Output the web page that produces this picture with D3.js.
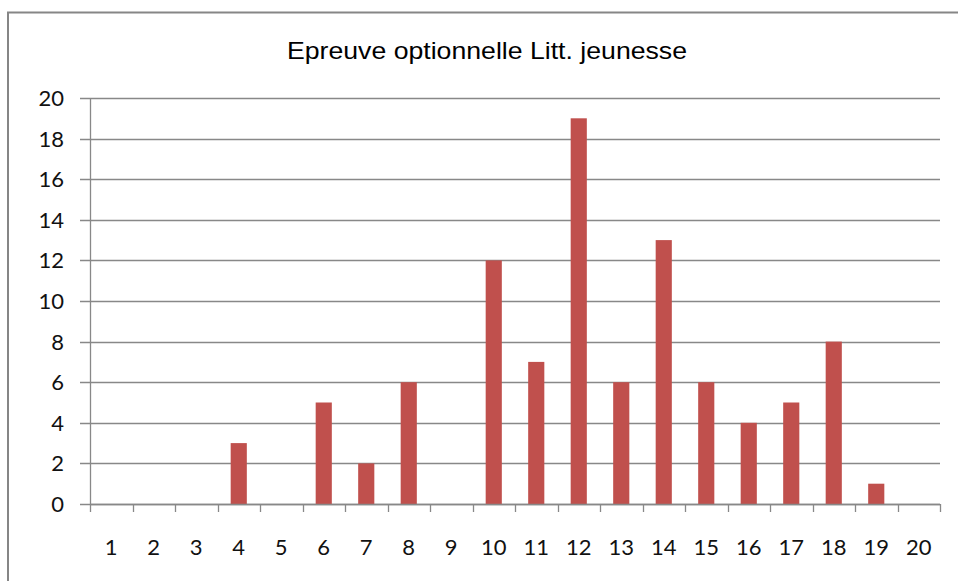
<!DOCTYPE html>
<html><head><meta charset="utf-8">
<script src="https://cdn.jsdelivr.net/npm/d3@7"></script>
<style>html,body{margin:0;padding:0;background:#fff;overflow:hidden}</style>
</head><body>
<svg id="c" width="958" height="581"></svg>
<script>
const title = "Epreuve optionnelle Litt. jeunesse";
const categories = ["1","2","3","4","5","6","7","8","9","10","11","12","13","14","15","16","17","18","19","20"];
const values = [0,0,0,3,0,5,2,6,0,12,7,19,6,13,6,4,5,8,1,0];
const yTicks = [0,2,4,6,8,10,12,14,16,18,20];

const svg = d3.select("#c");
const plotLeft = 90, plotRight = 940, plotTop = 98, plotBottom = 504;

// outer border
svg.append("rect").attr("x", 8).attr("y", 12.5).attr("width", 970).attr("height", 600)
  .attr("fill", "#fff").attr("stroke", "#868686").attr("stroke-width", 2);

const x = d3.scaleBand().domain(categories).range([plotLeft, plotRight]).paddingInner(0.62).paddingOuter(0.31);
const xOuter = d3.scaleBand().domain(categories).range([plotLeft, plotRight]);
const y = d3.scaleLinear().domain([0, 20]).range([plotBottom, plotTop]);

// gridlines
svg.append("g").selectAll("line").data(yTicks).join("line")
  .attr("x1", plotLeft - 10).attr("x2", plotRight)
  .attr("y1", d => Math.round(y(d)) + 0.5).attr("y2", d => Math.round(y(d)) + 0.5)
  .attr("stroke", "#888").attr("stroke-width", 1.3);

// y axis line
svg.append("line").attr("x1", plotLeft + 0.5).attr("x2", plotLeft + 0.5).attr("y1", plotTop).attr("y2", plotBottom)
  .attr("stroke", "#888").attr("stroke-width", 1.3);

// y labels
svg.append("g").selectAll("text").data(yTicks).join("text")
  .attr("x", 64).attr("y", d => y(d)).attr("dy", "0.36em")
  .attr("text-anchor", "end").attr("font-family", "Lato, 'Open Sans', sans-serif")
  .attr("font-size", 22).attr("fill", "#111").text(d => d);

// bars
svg.append("g").selectAll("rect").data(values).join("rect")
  .attr("x", (d, i) => x(categories[i]))
  .attr("width", x.bandwidth())
  .attr("y", d => y(d)).attr("height", d => y(0) - y(d))
  .attr("fill", "#C0504D");

// x axis line and ticks
svg.append("line").attr("x1", plotLeft).attr("x2", plotRight)
  .attr("y1", Math.round(y(0)) + 0.5).attr("y2", Math.round(y(0)) + 0.5)
  .attr("stroke", "#888").attr("stroke-width", 1.3);
const tickPos = categories.map(c => xOuter(c)).concat([plotRight]);
svg.append("g").selectAll("line").data(tickPos).join("line")
  .attr("x1", d => Math.round(d) + 0.5).attr("x2", d => Math.round(d) + 0.5)
  .attr("y1", y(0)).attr("y2", y(0) + 8)
  .attr("stroke", "#888").attr("stroke-width", 1.3);

// x labels
svg.append("g").selectAll("text").data(categories).join("text")
  .attr("x", d => xOuter(d) + xOuter.bandwidth() / 2).attr("y", 555)
  .attr("text-anchor", "middle").attr("font-family", "Lato, 'Open Sans', sans-serif")
  .attr("font-size", 22).attr("fill", "#111").text(d => d);

// title
svg.append("text").attr("x", 287).attr("y", 59)
  .attr("font-family", "'Liberation Sans', Arial, sans-serif").attr("font-size", 24)
  .attr("textLength", 400).attr("lengthAdjust", "spacingAndGlyphs")
  .attr("fill", "#000").text(title);
</script>
</body></html>
